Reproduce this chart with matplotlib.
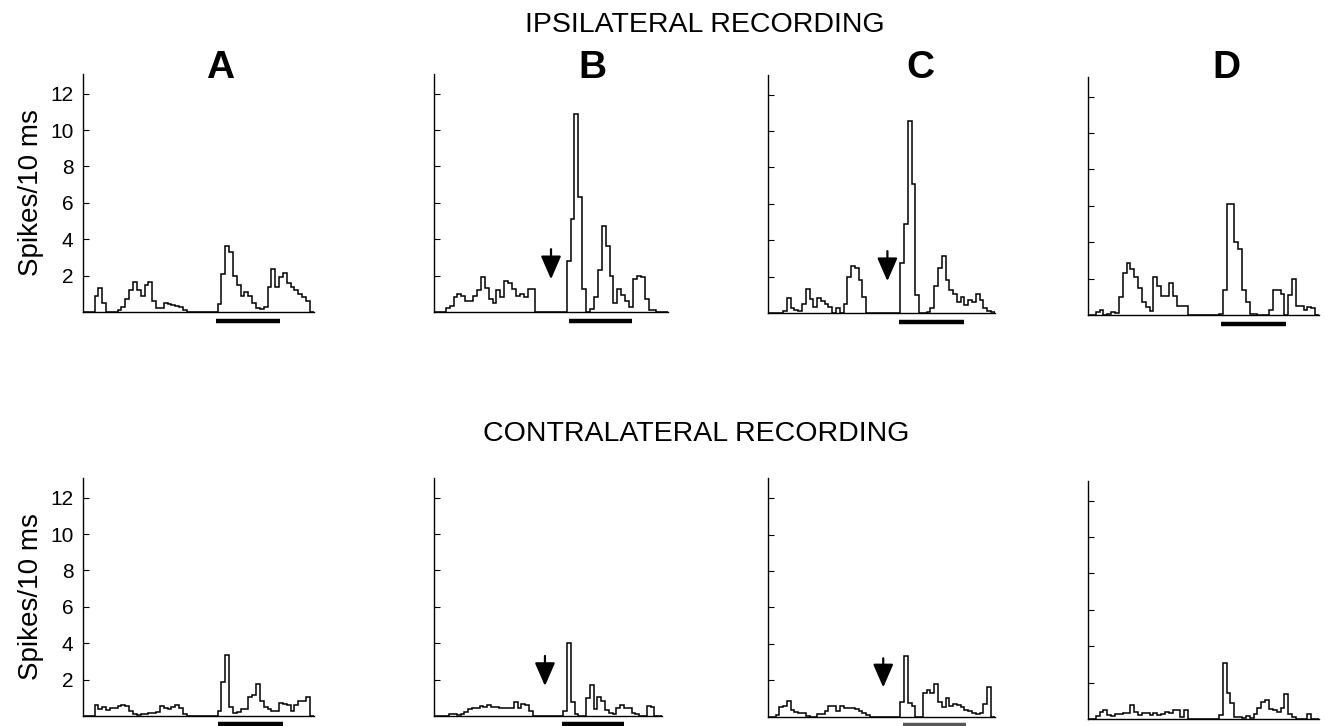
import numpy as np
import matplotlib
matplotlib.use("Agg")
import matplotlib.pyplot as plt

plt.rcParams['font.family'] = ['Liberation Sans', 'DejaVu Sans']

# spikes per 10 ms bin, 60 bins per panel
ipsi_A = [0, 0, 0, 0.9, 1.3, 0.5, 0, 0, 0, 0.1,
          0.3, 0.7, 1.2, 1.65, 1.2, 0.9, 1.5, 1.65, 0.6, 0.2,
          0.2, 0.5, 0.45, 0.4, 0.35, 0.3, 0.1, 0, 0, 0,
          0, 0, 0, 0, 0, 0.45, 2.1, 3.6, 3.3, 2.0,
          1.5, 0.9, 1.1, 0.9, 0.5, 0.2, 0.15, 0.3, 1.4, 2.35,
          1.4, 1.9, 2.15, 1.6, 1.4, 1.2, 1.0, 0.8, 0.6, 0]
ipsi_B = [0, 0, 0, 0.2, 0.35, 0.8, 1.0, 0.9, 0.6, 0.6,
          0.9, 1.2, 1.9, 1.3, 0.7, 0.5, 1.2, 0.8, 1.7, 1.6,
          1.25, 0.9, 1.0, 0.8, 1.25, 1.25, 0, 0, 0, 0,
          0, 0, 0, 0, 2.8, 5.1, 10.9, 6.3, 1.25, 0,
          0.15, 0.8, 2.3, 4.75, 3.6, 2.0, 0.5, 1.25, 0.95, 0.6,
          0.3, 1.8, 2.0, 1.9, 0.7, 0.1, 0.1, 0, 0, 0]
ipsi_C = [0, 0, 0, 0, 0.1, 0.8, 0.3, 0.15, 0.1, 0.5,
          1.3, 0.75, 0.35, 0.8, 0.65, 0.5, 0.35, 0, 0.3, 0,
          0.5, 2.0, 2.6, 2.45, 1.8, 0.9, 0, 0, 0, 0,
          0, 0, 0, 0, 0, 2.75, 4.9, 10.55, 7.1, 1.0,
          0, 0, 0.05, 0.3, 1.5, 2.5, 3.15, 1.8, 1.25, 1.05,
          0.6, 0.9, 0.45, 0.7, 0.6, 1.05, 0.7, 0.3, 0.1, 0.05]
ipsi_D = [0, 0, 0.15, 0.3, 0, 0.05, 0.15, 0.1, 1.0, 2.3,
          2.85, 2.55, 2.1, 1.5, 0.7, 0.45, 0.2, 2.1, 1.6, 1.05,
          1.05, 1.75, 1.05, 0.5, 0.5, 0.5, 0, 0, 0, 0,
          0, 0, 0, 0, 0.05, 1.4, 6.1, 6.1, 4.0, 3.6,
          1.4, 0.7, 0.05, 0.05, 0, 0, 0, 0.3, 1.4, 1.4,
          1.15, 0, 1.1, 2.0, 0.5, 0.5, 0.25, 0.45, 0.4, 0]

contra_A = [0, 0, 0, 0.6, 0.4, 0.5, 0.35, 0.45, 0.45, 0.55,
            0.6, 0.55, 0.25, 0.1, 0.05, 0.1, 0.1, 0.15, 0.15, 0.2,
            0.55, 0.45, 0.4, 0.5, 0.6, 0.45, 0.1, 0, 0, 0,
            0, 0, 0, 0, 0, 0.25, 1.85, 3.35, 0.5, 0.15,
            0.2, 0.4, 0.4, 1.05, 1.15, 1.75, 0.8, 0.5, 0.4, 0.25,
            0.3, 0.7, 0.65, 0.6, 0.3, 0.6, 0.8, 0.8, 1.05, 0]
contra_B = [0, 0, 0, 0, 0.1, 0.1, 0.05, 0.1, 0.2, 0.4,
            0.45, 0.45, 0.55, 0.5, 0.6, 0.5, 0.5, 0.45, 0.45, 0.45,
            0.45, 0.75, 0.45, 0.65, 0.6, 0.3, 0, 0, 0, 0,
            0, 0, 0, 0, 0.3, 4.0, 0.75, 0.1, 0, 0,
            1.0, 1.7, 0.4, 1.05, 0.8, 0.35, 0.15, 0.1, 0.45, 0.6,
            0.45, 0.45, 0.15, 0.1, 0, 0, 0.55, 0.5, 0, 0]
contra_C = [0, 0, 0.1, 0.5, 0.55, 0.85, 0.35, 0.25, 0.2, 0.2,
            0.05, 0, 0, 0.15, 0.15, 0.3, 0.6, 0.6, 0.3, 0.6,
            0.45, 0.45, 0.45, 0.4, 0.3, 0.2, 0.1, 0, 0, 0,
            0, 0, 0, 0, 0, 0.8, 3.35, 0.75, 0.6, 0,
            0, 1.3, 1.45, 1.3, 1.8, 0.8, 0.5, 1.0, 0.6, 0.7,
            0.65, 0.5, 0.35, 0.3, 0.2, 0.15, 0.2, 0.7, 1.6, 0]
contra_D = [0, 0, 0.15, 0.4, 0.5, 0.2, 0.15, 0.25, 0.3, 0.35,
            0.35, 0.75, 0.4, 0.2, 0.35, 0.35, 0.2, 0.35, 0.2, 0.3,
            0.4, 0.35, 0.5, 0.5, 0.1, 0.5, 0, 0, 0, 0,
            0, 0, 0, 0, 0.2, 3.1, 1.45, 0.9, 0.1, 0.1,
            0.05, 0.15, 0.05, 0.3, 0.6, 0.95, 1.05, 0.55, 0.5, 0.4,
            0.6, 1.4, 0.25, 0.1, 0, 0, 0, 0.25, 0, 0]

panel_letters = ["A", "B", "C", "D"]
yticks = [2, 4, 6, 8, 10, 12]
# stimulus bar (start, end) in bins
stim_top = [(34.7, 51.2), (34.6, 50.8), (34.75, 52.0), (34.5, 51.5)]
stim_bottom = [(35.2, 52.0), (33.8, 50.0), (35.8, 52.5), None]
# arrow: (bin, tip, tail) or None
arrows_top = [None, (30.0, 1.8, 3.45), (31.6, 1.75, 3.4), None]
arrows_bottom = [None, (29.2, 1.65, 3.3), (30.5, 1.6, 3.2), None]

W, H = 1326, 726
fig = plt.figure(figsize=(W / 100, H / 100), dpi=100)

ppu = 18.2      # pixels per spike unit
ytop = 13.1


def make_ax(left, base, width):
    ax = fig.add_axes([left / W, 1 - base / H, width / W, ytop * ppu / H])
    ax.set_xlim(0, 60)
    ax.set_ylim(0, ytop)
    for s in ["top", "right"]:
        ax.spines[s].set_visible(False)
    ax.spines["left"].set_linewidth(1.0)
    ax.spines["bottom"].set_linewidth(1.0)
    ax.set_xticks([])
    ax.set_yticks(yticks)
    ax.tick_params(axis="y", direction="in", length=4, width=0.8,
                   labelsize=15, pad=7)
    return ax


def draw_panel(ax, data, stim, arrow, col, stim_y, stim_color="k"):
    ax.stairs(data, np.arange(len(data) + 1), baseline=0, color="k", lw=1.1)
    if stim is not None:
        ax.plot(stim, [stim_y, stim_y], color=stim_color, lw=3.2,
                solid_capstyle="butt", clip_on=False)
    if arrow is not None:
        ax.annotate("", xy=(arrow[0], arrow[1]), xytext=(arrow[0], arrow[2]),
                    arrowprops=dict(arrowstyle="-|>,head_length=0.55,head_width=0.24",
                                    color="k", lw=1.6, mutation_scale=26,
                                    shrinkA=0, shrinkB=0))
    if col == 0:
        ax.set_ylabel("Spikes/10 ms", fontsize=20, labelpad=4)
    else:
        ax.set_yticklabels([])


top_pos = [(83, 312, 230.7), (434, 312, 234), (768, 313, 226.7), (1088, 315, 231)]
bot_pos = [(83, 716, 230.7), (434, 716, 228), (768, 716.5, 226.7), (1088, 719, 231)]
top_data = [ipsi_A, ipsi_B, ipsi_C, ipsi_D]
bot_data = [contra_A, contra_B, contra_C, contra_D]

for i in range(4):
    ax = make_ax(*top_pos[i])
    draw_panel(ax, top_data[i], stim_top[i], arrows_top[i], i, -0.5)
    ax2 = make_ax(*bot_pos[i])
    draw_panel(ax2, bot_data[i], stim_bottom[i], arrows_bottom[i], i, -0.45,
               stim_color="0.35" if i == 2 else "k")

letter_x = [220, 592, 920, 1226]
for lx, letter in zip(letter_x, panel_letters):
    fig.text(lx / W, 1 - 68 / H, letter, fontsize=28, fontweight="bold",
             ha="center", va="center")

fig.text(705 / W, 1 - 25 / H, "IPSILATERAL RECORDING", fontsize=20.5,
         ha="center", va="center")
fig.text(696 / W, 1 - 434 / H, "CONTRALATERAL RECORDING", fontsize=20.5,
         ha="center", va="center")

fig.savefig("out.png", dpi=100)
